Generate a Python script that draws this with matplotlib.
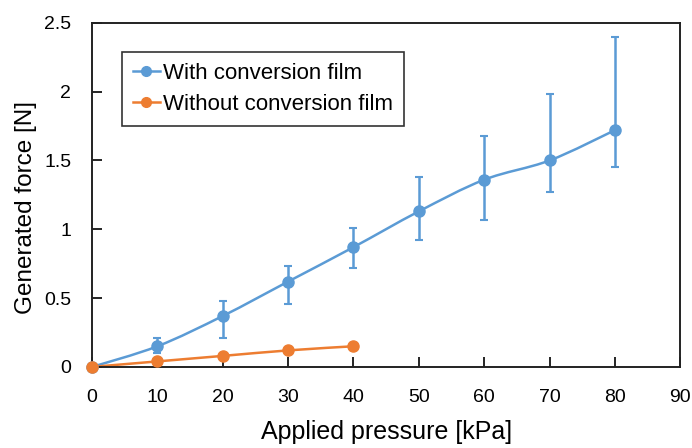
import numpy as np
import matplotlib
matplotlib.use("Agg")
import matplotlib.pyplot as plt
from matplotlib.path import Path
from matplotlib.patches import PathPatch
from matplotlib.lines import Line2D

plt.rcParams['font.family'] = ['Liberation Sans', 'DejaVu Sans']

pressure_with = [0, 10, 20, 30, 40, 50, 60, 70, 80]
force_with = [0, 0.15, 0.37, 0.62, 0.87, 1.13, 1.36, 1.50, 1.72]
err_with_lo = [0, 0.05, 0.16, 0.16, 0.15, 0.21, 0.29, 0.23, 0.27]
err_with_hi = [0, 0.06, 0.11, 0.11, 0.14, 0.25, 0.32, 0.48, 0.68]

pressure_without = [0, 10, 20, 30, 40]
force_without = [0, 0.04, 0.08, 0.12, 0.15]
err_without = [0, 0.01, 0.01, 0.015, 0.025]

label_with = "With conversion film"
label_without = "Without conversion film"
blue = "#5B9BD5"
orange = "#ED7D31"

fig = plt.figure(figsize=(6.92, 4.48), dpi=100)
ax = fig.add_axes([0.133, 0.181, 0.850, 0.768])


def smooth_path(x, y, t=1/6):
    x = np.asarray(x, float); y = np.asarray(y, float)
    verts = [(x[0], y[0])]
    codes = [Path.MOVETO]
    n = len(x)
    for i in range(n - 1):
        p0 = np.array([x[max(i-1, 0)], y[max(i-1, 0)]])
        p1 = np.array([x[i], y[i]])
        p2 = np.array([x[i+1], y[i+1]])
        p3 = np.array([x[min(i+2, n-1)], y[min(i+2, n-1)]])
        c1 = p1 + (p2 - p0) * t
        c2 = p2 - (p3 - p1) * t
        verts += [tuple(c1), tuple(c2), tuple(p2)]
        codes += [Path.CURVE4] * 3
    return Path(verts, codes)


for xs, ys, c in [(pressure_with, force_with, blue), (pressure_without, force_without, orange)]:
    ax.add_patch(PathPatch(smooth_path(xs, ys), facecolor='none', edgecolor=c, lw=1.8, zorder=2))

ax.errorbar(pressure_with, force_with, yerr=[err_with_lo, err_with_hi], fmt='o', color=blue,
            ms=8, elinewidth=1.8, capsize=3, capthick=1.5, zorder=3, clip_on=False)
ax.errorbar(pressure_without, force_without, yerr=err_without, fmt='o', color=orange,
            ms=8, elinewidth=1.8, capsize=3, capthick=1.5, zorder=3, clip_on=False)

ax.set_xlim(0, 90)
ax.set_ylim(0, 2.5)
ax.set_xticks(range(0, 91, 10))
ax.set_yticks([0, 0.5, 1, 1.5, 2, 2.5])
ax.set_yticklabels(["0", "0.5", "1", "1.5", "2", "2.5"])
ax.tick_params(direction='in', length=7, width=1.2, labelsize=14, colors='black')
ax.tick_params(axis='y', pad=15)
ax.tick_params(axis='x', pad=16)
for s in ax.spines.values():
    s.set_linewidth(1.4)
    s.set_color('#222222')

ax.set_xlabel("Applied pressure [kPa]", fontsize=18)
ax.set_ylabel("Generated force [N]", fontsize=17.5)
ax.xaxis.set_label_coords(0.5, -0.155)
ax.yaxis.set_label_coords(-0.093, 0.462)

handles = [Line2D([], [], color=blue, marker='o', ms=7, lw=1.8),
           Line2D([], [], color=orange, marker='o', ms=7, lw=1.8)]
leg = ax.legend(handles, [label_with, label_without], loc='upper left',
                bbox_to_anchor=(0.051, 0.916), borderaxespad=0, fontsize=16, frameon=True,
                fancybox=False, edgecolor='black', handlelength=1.2, handletextpad=0.15,
                borderpad=0.5, labelspacing=0.45)
leg.get_frame().set_linewidth(1.2)

fig.savefig("out.png", dpi=100)
